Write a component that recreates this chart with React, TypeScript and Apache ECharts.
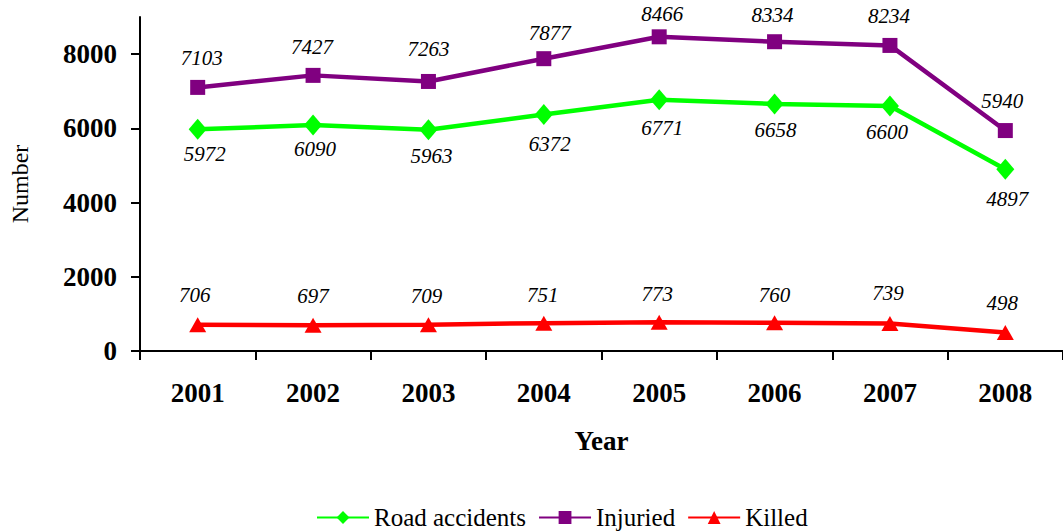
import React, { useEffect, useRef } from "react";
import * as echarts from "echarts";

const years = ["2001", "2002", "2003", "2004", "2005", "2006", "2007", "2008"];
const roadAccidents = [5972, 6090, 5963, 6372, 6771, 6658, 6600, 4897];
const injuried = [7103, 7427, 7263, 7877, 8466, 8334, 8234, 5940];
const killed = [706, 697, 709, 751, 773, 760, 739, 498];
const yTicks = [0, 2000, 4000, 6000, 8000];

// label nudges (pixels, relative to each point) as placed in the original
const roadLabelNudge = [[7, 25], [2, 24], [3, 26], [6, 29], [3, 28], [1, 26], [-3, 26], [2, 30]];
const injuriedLabelNudge = [[4, -29], [-1, -28], [0, -32], [6, -26], [3, -23], [-2, -27], [-1, -29], [-3, -30]];
const killedLabelNudge = [[-3, -30], [0, -29], [-2, -29], [-1, -28], [-2, -28], [0, -28], [-2, -31], [-3, -30]];

const FONT = "Liberation Serif";

export default function App() {
  const ref = useRef<HTMLDivElement>(null);
  useEffect(() => {
    document.body.style.margin = "0";
    const chart = echarts.init(ref.current!, null, { renderer: "svg" });
    const labelBase = {
      show: true,
      position: "inside",
      fontFamily: FONT,
      fontStyle: "italic" as const,
      fontSize: 21,
      color: "#000",
    };
    const withLabels = (values: number[], nudges: number[][]) =>
      values.map((v, i) => ({ value: v, label: { offset: nudges[i] } }));
    chart.setOption({
      animation: false,
      textStyle: { fontFamily: FONT },
      grid: { left: 140, right: 0, top: 17, bottom: 180, outerBoundsMode: "none", containLabel: false },
      legend: {
        top: 500,
        left: 311,
        itemWidth: 52,
        itemHeight: 16,
        itemGap: 12,
        textStyle: { fontFamily: FONT, fontSize: 25, color: "#000" },
        data: ["Road accidents", "Injuried", "Killed"],
      },
      xAxis: {
        type: "category",
        data: years,
        boundaryGap: true,
        name: "Year",
        nameLocation: "middle",
        nameGap: 76,
        nameMoveOverlap: false,
        nameTextStyle: { fontFamily: FONT, fontSize: 27, fontWeight: "bold", color: "#000" },
        axisLine: { lineStyle: { color: "#000", width: 2 } },
        axisTick: { show: true, length: 9, lineStyle: { color: "#000", width: 2 } },
        axisLabel: { fontFamily: FONT, fontSize: 27, fontWeight: "bold", color: "#000", margin: 28 },
      },
      yAxis: {
        type: "value",
        min: 0,
        max: 9000,
        interval: 1000,
        name: "Number",
        nameLocation: "middle",
        nameRotate: 90,
        nameGap: 108,
        nameMoveOverlap: false,
        nameTextStyle: { fontFamily: FONT, fontSize: 24, color: "#000" },
        splitLine: { show: false },
        axisLine: { show: true, lineStyle: { color: "#000", width: 2 } },
        axisTick: { show: true, length: 9, customValues: yTicks, lineStyle: { color: "#000", width: 2 } },
        axisLabel: {
          customValues: yTicks,
          formatter: (v: number) => String(v),
          fontFamily: FONT,
          fontSize: 27,
          fontWeight: "bold",
          color: "#000",
          margin: 23,
        },
      },
      series: [
        {
          name: "Road accidents",
          type: "line",
          data: withLabels(roadAccidents, roadLabelNudge),
          symbol: "diamond",
          symbolSize: [18, 21],
          color: "#00FF00",
          lineStyle: { color: "#00FF00", width: 4.5 },
          itemStyle: { color: "#00FF00" },
          label: labelBase,
        },
        {
          name: "Injuried",
          type: "line",
          data: withLabels(injuried, injuriedLabelNudge),
          symbol: "rect",
          symbolSize: 15,
          color: "#800080",
          lineStyle: { color: "#800080", width: 4.5 },
          itemStyle: { color: "#800080" },
          label: labelBase,
        },
        {
          name: "Killed",
          type: "line",
          data: withLabels(killed, killedLabelNudge),
          symbol: "triangle",
          symbolSize: [17, 15],
          color: "#FF0000",
          lineStyle: { color: "#FF0000", width: 4.5 },
          itemStyle: { color: "#FF0000" },
          label: labelBase,
        },
      ],
    });
    return () => chart.dispose();
  }, []);
  return <div ref={ref} style={{ width: 1063, height: 531 }} />;
}
